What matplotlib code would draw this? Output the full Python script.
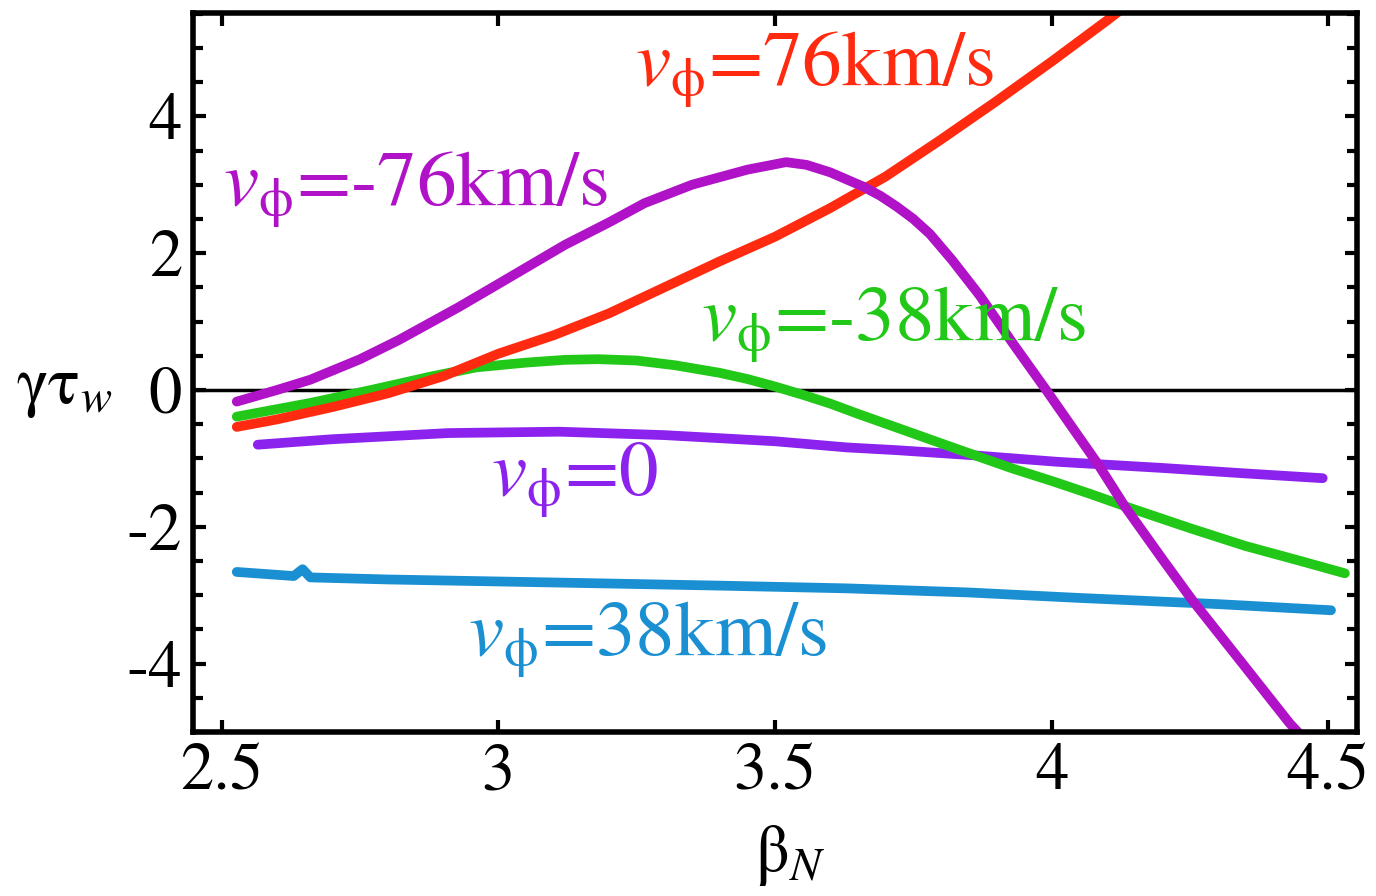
import numpy as np
import matplotlib
matplotlib.use('Agg')
from matplotlib import pyplot as plt
from matplotlib.ticker import MultipleLocator

plt.rcParams['font.family'] = 'STIXGeneral'
plt.rcParams['mathtext.fontset'] = 'stix'

# beta_N values and growth rates
x_p76 = [2.527, 2.6, 2.7, 2.8, 2.9, 3.0, 3.1, 3.2, 3.3, 3.4, 3.5, 3.6, 3.7, 3.8, 3.9, 4.0, 4.1, 4.14]
y_p76 = [-0.54, -0.43, -0.25, -0.05, 0.2, 0.53, 0.8, 1.12, 1.5, 1.88, 2.24, 2.66, 3.12, 3.66, 4.22, 4.8, 5.4, 5.65]

x_m76 = [2.527, 2.6, 2.66, 2.75, 2.82, 2.928, 3.0, 3.12, 3.2, 3.264, 3.35, 3.45, 3.52, 3.557, 3.6,
         3.66, 3.69, 3.72, 3.75, 3.78, 3.82, 3.87, 3.93, 3.99, 4.085, 4.133, 4.2, 4.254, 4.35, 4.43, 4.445]
y_m76 = [-0.17, 0.0, 0.15, 0.45, 0.73, 1.21, 1.55, 2.12, 2.45, 2.73, 3.0, 3.22, 3.33, 3.29, 3.18,
         2.97, 2.84, 2.68, 2.50, 2.28, 1.90, 1.38, 0.68, 0.0, -1.10, -1.71, -2.47, -3.07, -4.05, -4.87, -5.0]

x_m38 = [2.527, 2.66, 2.77, 2.88, 2.96, 3.05, 3.12, 3.18, 3.25, 3.32, 3.4, 3.45, 3.5, 3.55, 3.6,
         3.65, 3.72, 3.8, 3.87, 3.93, 4.0, 4.07, 4.14, 4.25, 4.35, 4.45, 4.53]
y_m38 = [-0.39, -0.19, 0.0, 0.2, 0.33, 0.40, 0.44, 0.45, 0.43, 0.36, 0.25, 0.16, 0.05, -0.07, -0.2,
         -0.35, -0.55, -0.78, -0.98, -1.15, -1.33, -1.52, -1.72, -2.02, -2.28, -2.5, -2.68]

x_0 = [2.565, 2.7, 2.91, 3.11, 3.3, 3.5, 3.63, 3.72, 3.85, 4.01, 4.2, 4.35, 4.49]
y_0 = [-0.8, -0.72, -0.63, -0.61, -0.66, -0.75, -0.84, -0.88, -0.95, -1.05, -1.14, -1.22, -1.29]

x_p38 = [2.527, 2.63, 2.646, 2.66, 2.8, 3.14, 3.4, 3.63, 3.85, 4.05, 4.3, 4.505]
y_p38 = [-2.66, -2.72, -2.62, -2.74, -2.77, -2.82, -2.86, -2.9, -2.96, -3.04, -3.13, -3.22]

c_red = '#ff2a10'
c_mag = '#b012c8'
c_grn = '#22c818'
c_vio = '#8c22ee'
c_blu = '#1a8fd2'

fig = plt.figure(figsize=(13.76, 8.96), dpi=100)
ax = fig.add_axes([0.1403, 0.183, 0.8459, 0.8025])

ax.axhline(0, color='black', lw=2.5, zorder=1)
lw = 7
ax.plot(x_0, y_0, color=c_vio, lw=lw, solid_capstyle='round', solid_joinstyle='round')
ax.plot(x_p38, y_p38, color=c_blu, lw=lw, solid_capstyle='round', solid_joinstyle='round')
ax.plot(x_m38, y_m38, color=c_grn, lw=lw, solid_capstyle='round', solid_joinstyle='round')
ax.plot(x_p76, y_p76, color=c_red, lw=lw, solid_capstyle='round', solid_joinstyle='round')
ax.plot(x_m76, y_m76, color=c_mag, lw=lw, solid_capstyle='round', solid_joinstyle='round')

fs = 57
lab = r'$v_{\mathrm{\phi}}$'
ax.text(3.572, 4.68, lab + '=76km/s', color=c_red, fontsize=fs, ha='center', va='center')
ax.text(2.85, 2.92, lab + '=-76km/s', color=c_mag, fontsize=fs, ha='center', va='center')
ax.text(3.714, 0.95, lab + '=-38km/s', color=c_grn, fontsize=fs, ha='center', va='center')
ax.text(3.137, -1.32, lab + '=0', color=c_vio, fontsize=fs, ha='center', va='center')
ax.text(3.27, -3.65, lab + '=38km/s', color=c_blu, fontsize=fs, ha='center', va='center')

ax.set_xlim(2.448, 4.552)
ax.set_ylim(-5.0, 5.51)
ax.set_xticks([2.5, 3, 3.5, 4, 4.5])
ax.set_xticklabels(['2.5', '3', '3.5', '4', '4.5'])
ax.set_yticks([-4, -2, 0, 2, 4])
ax.set_yticklabels(['-4', '-2', '0', '2', '4'])
ax.yaxis.set_minor_locator(MultipleLocator(0.5))
ax.tick_params(which='both', direction='in', top=True, right=True, width=3)
ax.tick_params(which='major', length=9, labelsize=48, pad=8)
ax.tick_params(which='minor', length=7)
for s in ax.spines.values():
    s.set_linewidth(4)

fig.text(0.047, 1 - 390 / 896, r'$\mathrm{\gamma\tau}_{w}$', fontsize=48, ha='center', va='center')
fig.text(0.574, 1 - 855 / 896, r'$\mathrm{\beta}_{N}$', fontsize=48, ha='center', va='center')

fig.savefig('out.png', dpi=100)
